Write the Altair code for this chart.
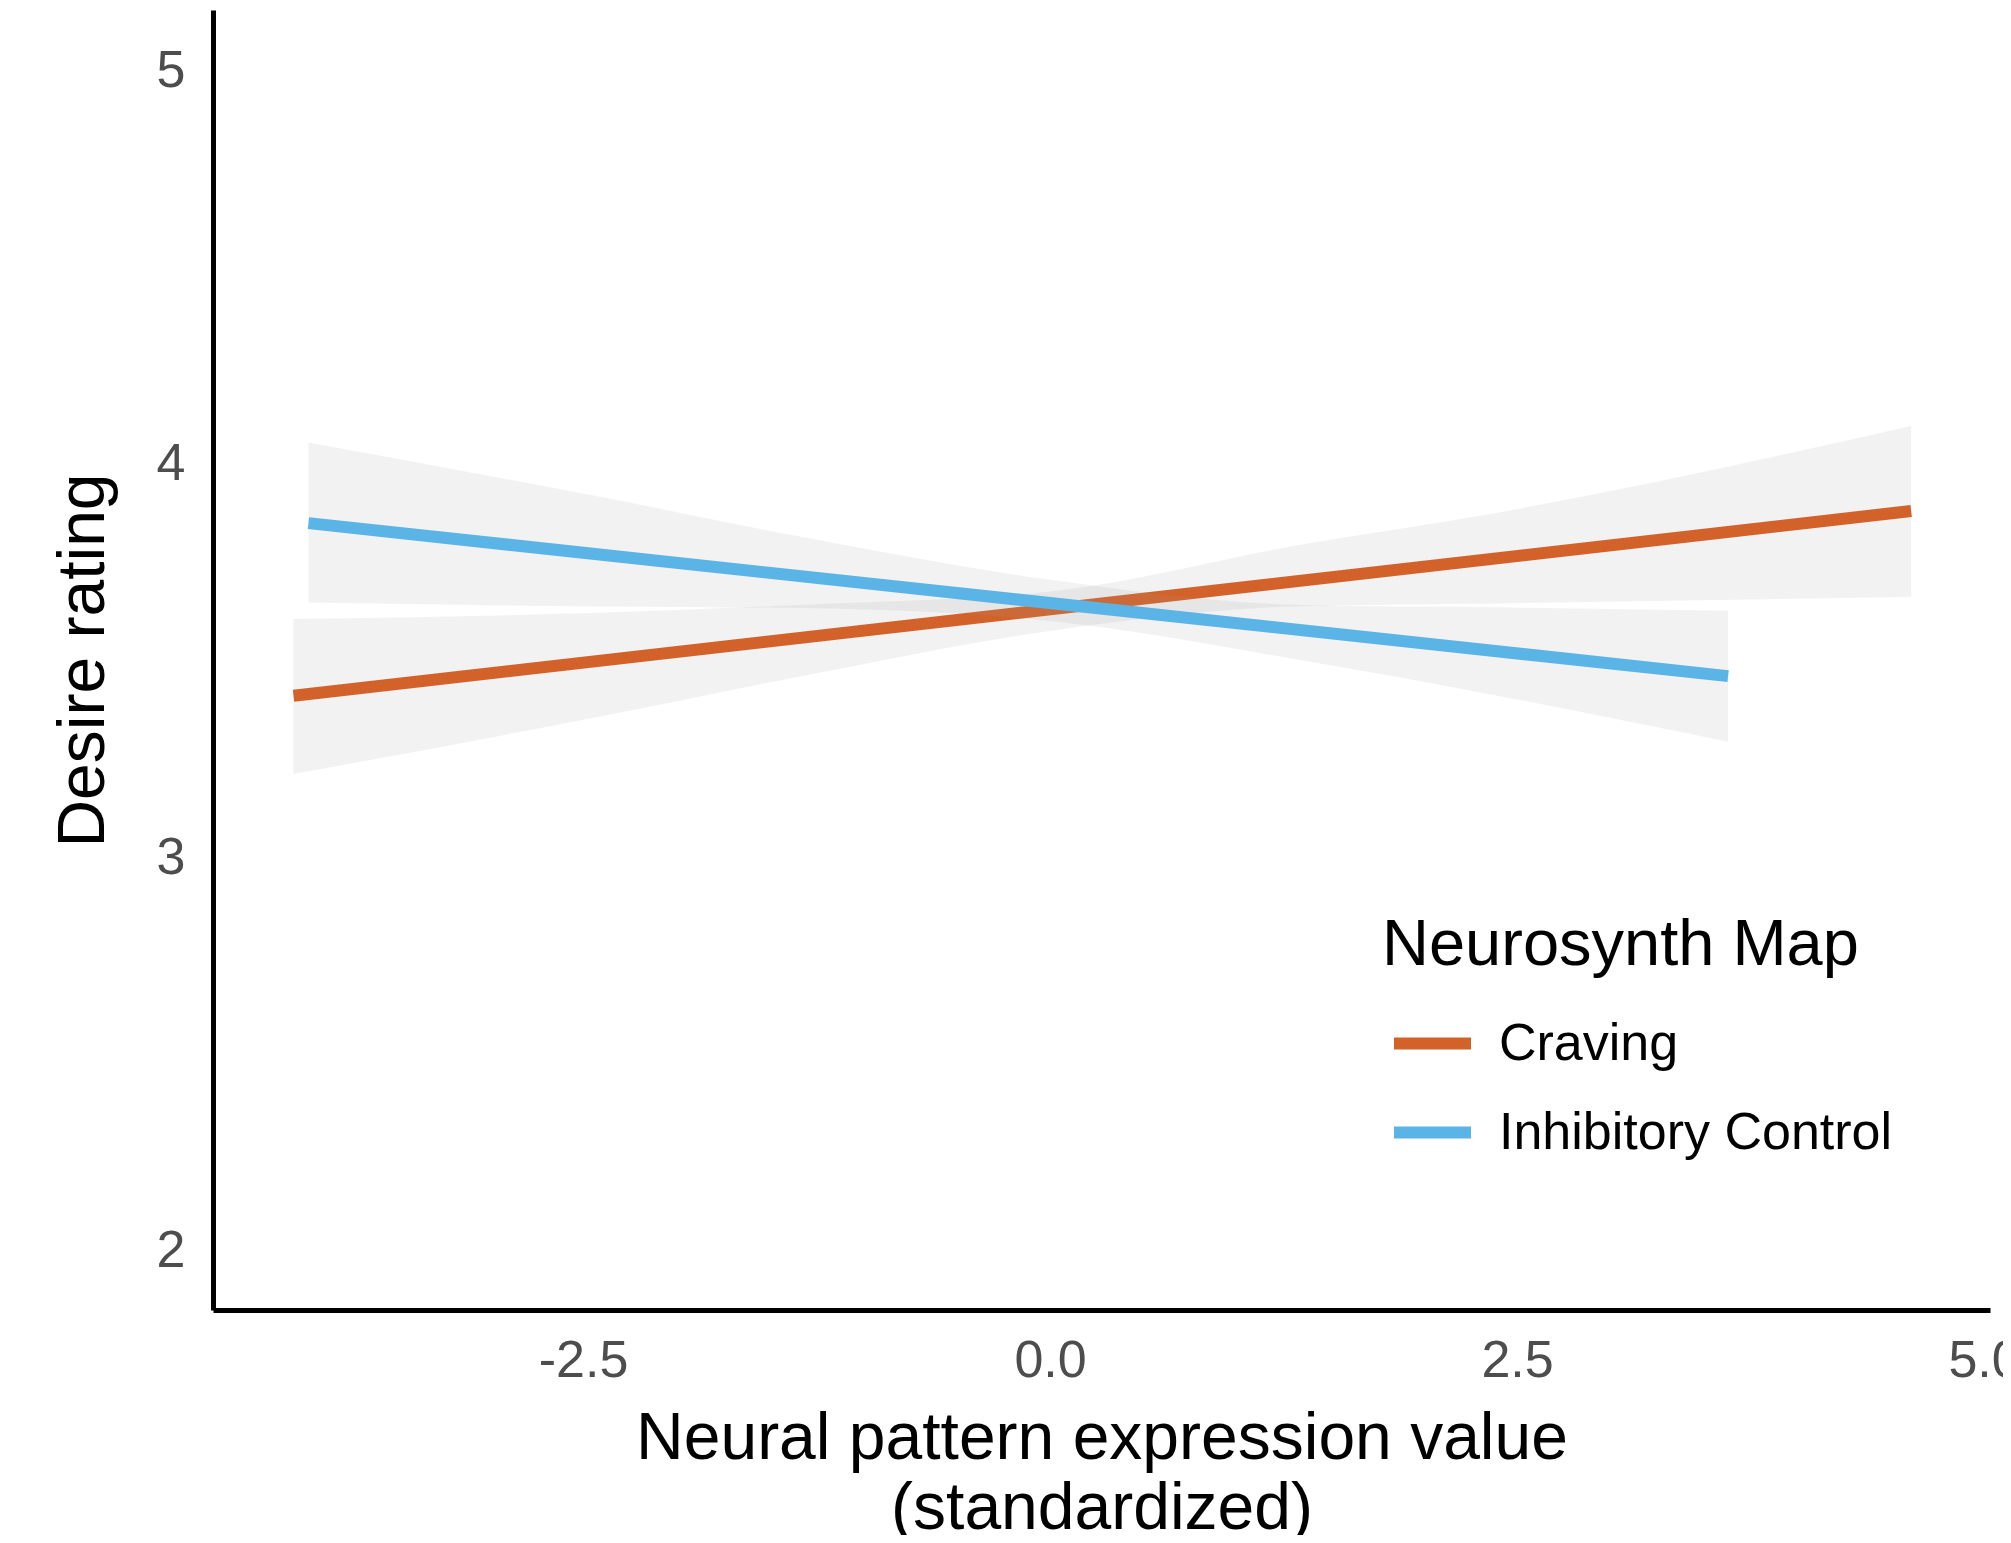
import altair as alt
import pandas as pd

# ---- data ----
maps = ["Craving", "Inhibitory Control"]

# fitted lines (straight): end points
crav_line_x = [-4.05, 4.61]
crav_line_y = [3.410, 3.880]
inh_line_x = [-3.97, 3.63]
inh_line_y = [3.849, 3.460]

# confidence bands
crav_x = [-4.05, -2.41, -1.34, 0.0, 1.34, 2.41, 4.61]
crav_hi = [3.605, 3.621, 3.641, 3.675, 3.794, 3.877, 4.096]
crav_lo = [3.211, 3.357, 3.459, 3.575, 3.638, 3.645, 3.662]

inh_x = [-3.97, -2.41, -1.34, 0.0, 1.34, 2.41, 3.63]
inh_hi = [4.054, 3.916, 3.815, 3.705, 3.641, 3.635, 3.626]
inh_lo = [3.647, 3.637, 3.633, 3.600, 3.501, 3.409, 3.293]

x_ticks = [-2.5, 0.0, 2.5, 5.0]
y_ticks = [2, 3, 4, 5]
colors = ["#D3622A", "#5BB4E6"]

band_rows, line_rows = [], []
for m, xs, hi, lo in [(maps[0], crav_x, crav_hi, crav_lo), (maps[1], inh_x, inh_hi, inh_lo)]:
    for a, c, d in zip(xs, hi, lo):
        band_rows.append({"map": m, "x": a, "hi": c, "lo": d})
for m, xs, ys in [(maps[0], crav_line_x, crav_line_y), (maps[1], inh_line_x, inh_line_y)]:
    for a, b in zip(xs, ys):
        line_rows.append({"map": m, "x": a, "fit": b})
band_df = pd.DataFrame(band_rows)
line_df = pd.DataFrame(line_rows)

FONT = "Liberation Sans"

xscale = alt.Scale(domain=[-4.481, 5.032], nice=False, zero=False)
yscale = alt.Scale(domain=[1.848, 5.154], nice=False, zero=False)
cscale = alt.Scale(domain=maps, range=colors)

xaxis = alt.Axis(
    values=x_ticks, grid=False, ticks=False, tickSize=0,
    labelExpr="replace(format(datum.value, '.1f'), '\u2212', '-')",
    labelPadding=25, labelFontSize=52, labelColor="#4D4D4D", labelFont=FONT,
    domainColor="black", domainWidth=5,
    title=["Neural pattern expression value", "(standardized)"],
    titleFontSize=66, titleFont=FONT, titleColor="black", titleFontWeight="normal",
    titleLineHeight=70, titleBaseline="alphabetic", titleY=148,
)
yaxis = alt.Axis(
    values=y_ticks, format="d", grid=False, ticks=False, tickSize=0,
    labelPadding=28, labelFontSize=52, labelColor="#4D4D4D", labelFont=FONT,
    domainColor="black", domainWidth=5,
    title="Desire rating", titleFontSize=66, titleFont=FONT, titleColor="black",
    titleFontWeight="normal", titleX=-130, titleY=650, titleAngle=270,
    titleBaseline="middle", titleAlign="center",
)

legend = alt.Legend(
    title="Neurosynth Map", orient="none", legendX=1169, legendY=904,
    titleFontSize=65, titleFont=FONT, titleColor="black", titleLimit=1000,
    titleFontWeight="normal", titlePadding=20, titleBaseline="top",
    labelFontSize=52, labelFont=FONT, labelColor="black",
    symbolType="stroke", symbolSize=5929, symbolStrokeWidth=12,
    symbolOffset=6, labelOffset=22, rowPadding=18, padding=0,
    labelLimit=1000,
)

layers = []
for m in maps:
    band = alt.Chart(band_df).transform_filter(alt.datum.map == m).mark_area(
        color="#999999", opacity=0.13, interpolate="monotone"
    ).encode(
        x=alt.X("x:Q", scale=xscale, axis=xaxis),
        y=alt.Y("lo:Q", scale=yscale, axis=yaxis),
        y2="hi:Q",
    )
    line = alt.Chart(line_df).transform_filter(alt.datum.map == m).mark_line(
        strokeWidth=12
    ).encode(
        x=alt.X("x:Q", scale=xscale, axis=xaxis),
        y=alt.Y("fit:Q", scale=yscale, axis=yaxis),
        color=alt.Color("map:N", scale=cscale, legend=legend),
    )
    layers += [band, line]

chart = alt.layer(*layers).properties(
    width=1777, height=1300,
    background="white",
    autosize=alt.AutoSizeParams(type="none"),
    padding={"left": 205, "top": 2, "right": 13, "bottom": 225},
).configure_view(stroke=None)

chart.save("out.html", embed_options={"renderer": "svg", "actions": False})
